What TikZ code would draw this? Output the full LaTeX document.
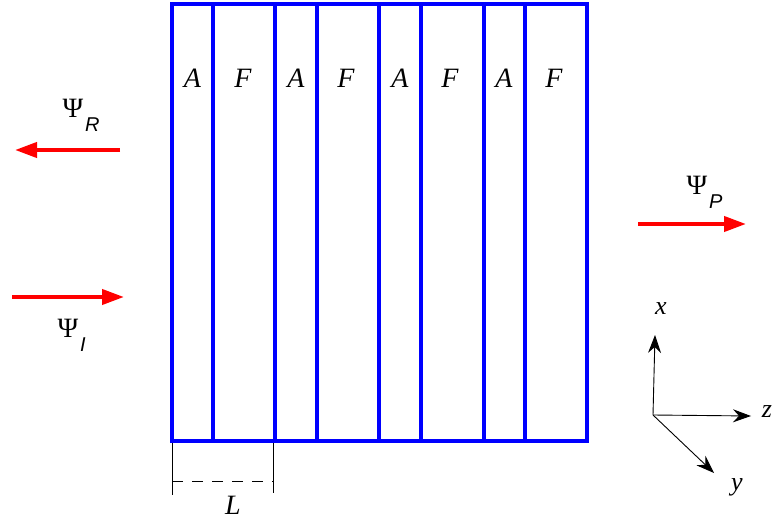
\documentclass[tikz,border=0pt]{standalone}
\usepackage{fontspec}
\setmainfont{Liberation Serif}
\setsansfont{Liberation Sans}
\usetikzlibrary{arrows.meta}

\newcommand{\wavelabel}[1]{Ψ\raisebox{-14bp}{\fontsize{20bp}{24bp}\selectfont\sffamily\itshape\kern2bp #1}}

\begin{document}
\begin{tikzpicture}[
            x=1bp, y=-1bp,
            layer/.style={draw=blue, line width=4bp},
            wave/.style={red, line width=4bp, -{Triangle[length=22bp, width=15bp]}},
            axis/.style={line width=0.9bp, -{Stealth[length=18bp, width=13bp, inset=6bp]}},
            dim/.style={line width=0.7bp},
            lbl/.style={font=\fontsize{28bp}{32bp}\selectfont\itshape},
            axlbl/.style={font=\fontsize{26bp}{30bp}\selectfont\itshape},
            psi/.style={anchor=base west, font=\fontsize{28bp}{32bp}\selectfont}
          ]
  \useasboundingbox (0,0) rectangle (773,520);

  % Abmessung L
  \coordinate (tickA) at (172,441);
  \coordinate (tickB) at (273,441);
  \coordinate (tickAend) at (172,495);
  \coordinate (tickBend) at (273,493);
  \coordinate (dimA) at (172,481);
  \coordinate (dimB) at (273,481);
  \draw [dim] (tickA) -- (tickAend);
  \draw [dim] (tickB) -- (tickBend);
  \draw [dim, dash pattern=on 11bp off 9bp] (dimA) -- (dimB);
  \node (len) [lbl] at (233,505) {L};

  % Schichten
  \draw [layer] (172,4) rectangle (587,441);
  \draw [layer] (213,4) -- (213,441);
  \draw [layer] (275,4) -- (275,441);
  \draw [layer] (317,4) -- (317,441);
  \draw [layer] (379,4) -- (379,441);
  \draw [layer] (421,4) -- (421,441);
  \draw [layer] (484,4) -- (484,441);
  \draw [layer] (525,4) -- (525,441);

  \node (a1) [lbl] at (192.5,78) {A};
  \node (f1) [lbl] at (243,78) {F};
  \node (a2) [lbl] at (296,78) {A};
  \node (f2) [lbl] at (346,78) {F};
  \node (a3) [lbl] at (400,78) {A};
  \node (f3) [lbl] at (450,78) {F};
  \node (a4) [lbl] at (504,78) {A};
  \node (f4) [lbl] at (554,78) {F};

  % Wellen
  \coordinate (reflS) at (120,150);
  \coordinate (reflE) at (15,150);
  \coordinate (incS) at (12,297);
  \coordinate (incE) at (124,297);
  \coordinate (transS) at (638,224);
  \coordinate (transE) at (746,224);
  \draw [wave] (reflS) -- (reflE);
  \draw [wave] (incS) -- (incE);
  \draw [wave] (transS) -- (transE);
  \node (psiR) [psi] at (59,118) {\wavelabel{R}};
  \node (psiI) [psi] at (54,337) {\wavelabel{I}};
  \node (psiP) [psi] at (683,195) {\wavelabel{P}};

  % Achsen
  \coordinate (orig) at (653,415);
  \coordinate (xEnd) at (655,335);
  \coordinate (zEnd) at (751,416);
  \coordinate (yEnd) at (714,473);
  \draw [axis] (orig) -- (xEnd);
  \draw [axis] (orig) -- (zEnd);
  \draw [axis] (orig) -- (yEnd);
  \node (xLab) [axlbl] at (661,309) {x};
  \node (zLab) [axlbl] at (767,412) {z};
  \node (yLab) [axlbl] at (737,487) {y};

\end{tikzpicture}
\end{document}
